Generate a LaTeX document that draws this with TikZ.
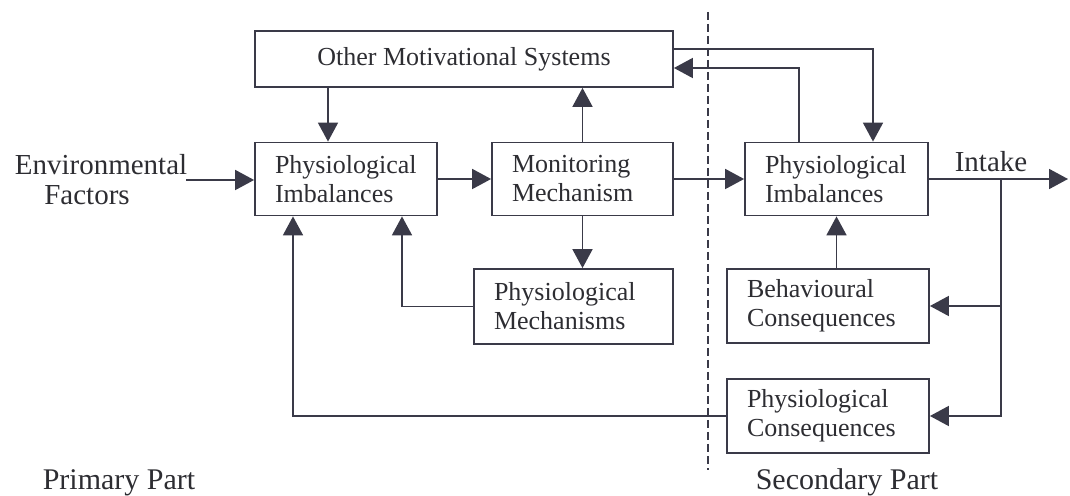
\documentclass[tikz,border=0pt]{standalone}
\usepackage{fontspec}
\setmainfont{Liberation Serif}
\usetikzlibrary{arrows.meta}
\definecolor{ink}{RGB}{58,58,72}
\definecolor{txt}{RGB}{45,45,50}
\begin{document}
\begin{tikzpicture}[x=0.5pt,y=-0.5pt,
  box/.style={draw=ink, line width=0.9pt, text=txt, align=left,
    inner xsep=10pt, inner ysep=0pt, font=\fontsize{13}{14.5}\selectfont},
  lbl/.style={text=txt, inner sep=0pt, font=\fontsize{15}{15}\selectfont},
  link/.style={draw=ink, line width=0.9pt},
  arr/.style={link, -{Triangle[length=9.5pt,width=10pt]}},
  divider/.style={draw=ink, line width=0.8pt, dash pattern=on 4pt off 2pt}]
\useasboundingbox (0,0) rectangle (1070,496);

% boxes of the primary part
\node[box, minimum width=209pt, minimum height=28pt, align=center] (oms) at (464,59) {Other Motivational Systems};
\node[box, text width=71pt, minimum height=36.5pt] (pi1) at (346,179) {Physiological\\Imbalances};
\node[box, text width=70.5pt, minimum height=36.5pt] (mm) at (582.5,179) {Monitoring\\Mechanism};
\node[box, text width=79.5pt, minimum height=37.5pt] (pm) at (573.5,306.5) {Physiological\\Mechanisms};

% boxes of the secondary part
\node[box, text width=71.5pt, minimum height=36.5pt] (pi2) at (836.5,179) {Physiological\\Imbalances};
\node[box, text width=81pt, minimum height=37pt] (bc) at (828,306) {Behavioural\\Consequences};
\node[box, text width=81pt, minimum height=37pt] (pc) at (828,416) {Physiological\\Consequences};

% free labels
\node[lbl, anchor=base, font=\fontsize{14.5}{14.5}\selectfont] (env1) at (101,175) {Environmental};
\node[lbl, anchor=base, font=\fontsize{14.5}{14.5}\selectfont] (env2) at (87,205) {Factors};
\node[lbl, anchor=base, font=\fontsize{14.5}{14.5}\selectfont] (intake) at (991,172) {Intake};
\node[lbl, anchor=base] (prim) at (119,489) {Primary Part};
\node[lbl, anchor=base] (sec) at (847,489) {Secondary Part};

% helper points
\coordinate (envout) at (186,180);
\coordinate (split) at (1001,179);
\coordinate (outend) at (1068,179);
\coordinate (dtop) at (708,12);
\coordinate (dbot) at (708,470);

% divider between the two parts
\draw[divider] (dtop) -- (dbot);

% connectors
\draw[arr] (envout) -- (pi1.west |- envout);
\draw[arr] (oms.south -| 328,0) -- (pi1.north -| 328,0);
\draw[arr] (pi1.east) -- (mm.west);
\draw[arr] (mm.north) -- (oms.south -| mm.north);
\draw[arr] (mm.south) -- (pm.north -| mm.south);
\draw[arr] (pm.west) -| (pi1.south -| 402,0);
\draw[arr] (pc.west) -| (pi1.south -| 293,0);
\draw[arr] (mm.east) -- (pi2.west);
\draw[arr] (oms.east |- 0,49) -| (pi2.north -| 873,0);
\draw[arr] (pi2.north -| 799,0) |- (oms.east |- 0,68);
\draw[arr] (bc.north -| pi2.south) -- (pi2.south);
\draw[arr] (pi2.east) -- (outend);
\draw[arr] (split) |- (bc.east);
\draw[arr] (split) |- (pc.east);
\end{tikzpicture}
\end{document}
